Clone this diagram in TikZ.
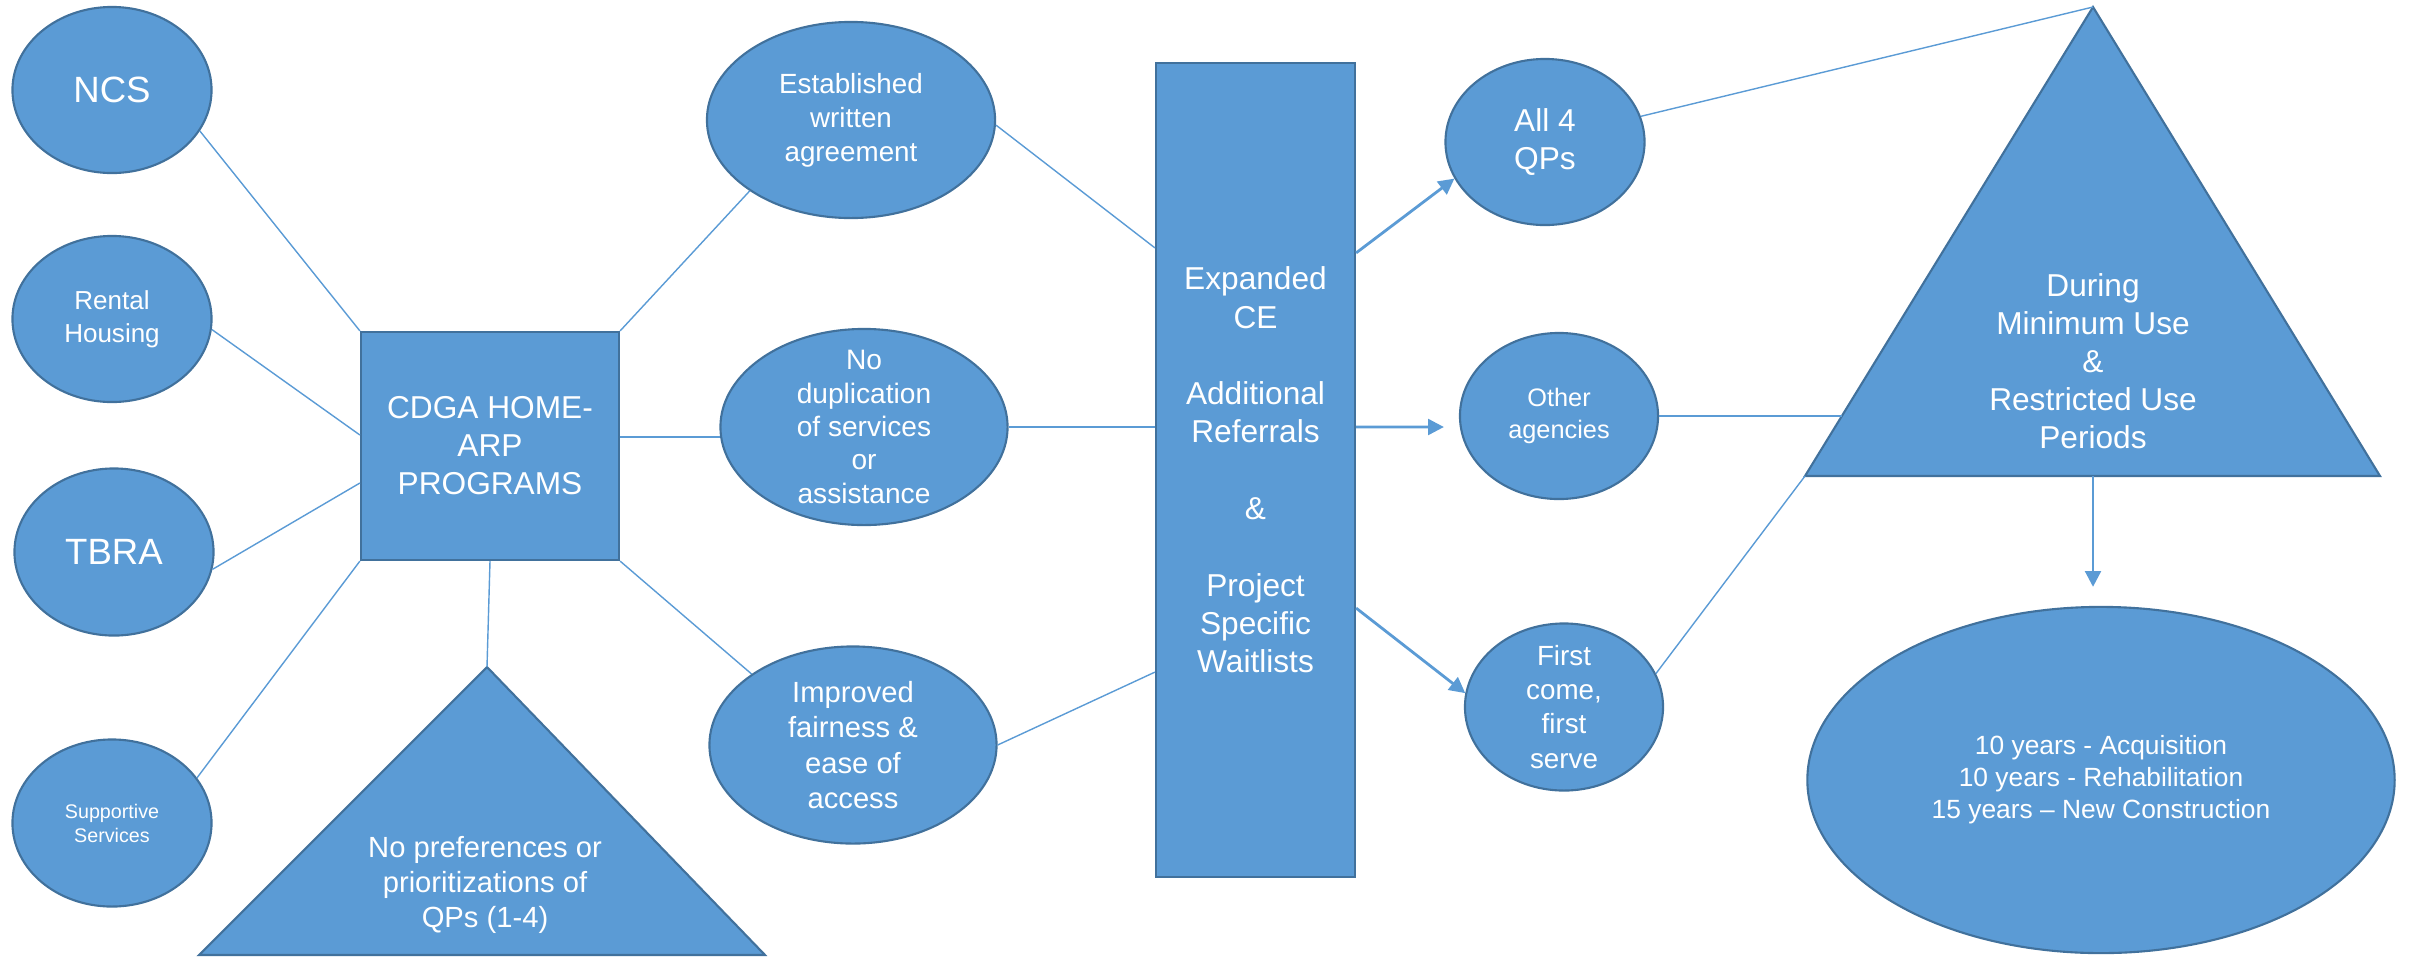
\documentclass[tikz,border=0pt]{standalone}
\usepackage{fontspec}
\setmainfont{Liberation Sans}
\usetikzlibrary{shapes.geometric,arrows.meta}
\definecolor{boxblue}{HTML}{5B9BD5}
\definecolor{edgeblue}{HTML}{41719C}
\tikzset{
  bubble/.style={ellipse,fill=boxblue,draw=edgeblue,line width=0.6pt,inner sep=0pt,text=white,align=center},
  block/.style={rectangle,fill=boxblue,draw=edgeblue,line width=0.6pt,inner sep=0pt,text=white,align=center},
  tri/.style={fill=boxblue,draw=edgeblue,line width=0.6pt,line join=miter},
  tritext/.style={inner sep=0pt,text=white,align=center},
  link/.style={draw=boxblue,line width=0.4pt},
  arr/.style={draw=boxblue,line width=0.8pt,-{Triangle[length=4.5pt,width=4.5pt]}}
}
\begin{document}
\begin{tikzpicture}[x=0.01cm,y=-0.01cm]
\useasboundingbox (0,0) rectangle (2412,957);

\node[bubble,minimum width=1.99cm,minimum height=1.66cm,font=\fontsize{10.4}{12.5}\selectfont] (ncs) at (112,90) {NCS};
\node[bubble,minimum width=1.99cm,minimum height=1.66cm,font=\fontsize{7.4}{9.5}\selectfont] (rental) at (112,319) {Rental\\Housing};
\node[bubble,minimum width=1.99cm,minimum height=1.67cm,font=\fontsize{10.4}{12.5}\selectfont] (tbra) at (114,552) {TBRA};
\node[bubble,minimum width=1.99cm,minimum height=1.67cm,font=\fontsize{5.6}{6.8}\selectfont] (supp) at (112,823) {Supportive\\Services};

\node[block,minimum width=2.58cm,minimum height=2.28cm,font=\fontsize{9}{10.8}\selectfont] (cdga) at (490,446) {CDGA HOME-\\ARP\\PROGRAMS};

\coordinate (napex) at (487,667);
\coordinate (nleft) at (199,955);
\coordinate (nright) at (765,955);
\draw[tri] (napex) -- (nright) -- (nleft) -- cycle;
\node[tritext,font=\fontsize{8.3}{10}\selectfont] (noprefs) at (485,885) {No preferences or\\prioritizations of\\QPs (1-4)};

\node[bubble,minimum width=2.88cm,minimum height=1.96cm,font=\fontsize{7.9}{9.7}\selectfont] (est) at (851,120) {Established\\written\\agreement};
\node[bubble,minimum width=2.87cm,minimum height=1.96cm,inner ysep=-4pt,font=\fontsize{8}{9.5}\selectfont] (nodup) at (864,427) {No\\duplication\\of services\\or\\assistance};
\node[bubble,minimum width=2.87cm,minimum height=1.97cm,font=\fontsize{8.3}{10}\selectfont] (impr) at (853,745) {Improved\\fairness \&\\ease of\\access};

\node[block,minimum width=1.99cm,minimum height=8.14cm,font=\fontsize{9}{10.9}\selectfont] (ce) at (1255.5,470) {Expanded\\CE\\[10.9pt]Additional\\Referrals\\[10.9pt]\&\\[10.9pt]Project\\Specific\\Waitlists};

\node[bubble,minimum width=1.99cm,minimum height=1.66cm,font=\fontsize{9}{10.8}\selectfont] (all4) at (1545,142) {All 4\\QPs};
\node[bubble,minimum width=1.98cm,minimum height=1.66cm,font=\fontsize{7.2}{9.1}\selectfont] (other) at (1559,416) {Other\\agencies};
\node[bubble,minimum width=1.98cm,minimum height=1.67cm,inner ysep=-2pt,font=\fontsize{7.9}{9.7}\selectfont] (first) at (1564,707) {First\\come,\\first\\serve};

\coordinate (dapex) at (2093,7);
\coordinate (dleft) at (1805,476);
\coordinate (dright) at (2380,476);
\coordinate (dbase) at (2093,476);
\coordinate (dside) at (1842,416);
\draw[tri] (dapex) -- (dright) -- (dleft) -- cycle;
\node[tritext,font=\fontsize{9}{10.8}\selectfont] (during) at (2093,361) {During\\Minimum Use\\\&\\Restricted Use\\Periods};

\node[bubble,minimum width=5.87cm,minimum height=3.46cm,font=\fontsize{7.5}{9.1}\selectfont] (yrs) at (2101,780) {10 years - Acquisition\\10 years - Rehabilitation\\15 years – New Construction};

\draw[link] (ncs.-25) -- (cdga.north west);
\draw[link] (rental.-6) -- ([yshift=0.11cm]cdga.west);
\draw[link] (tbra.-10) -- ([yshift=-0.37cm]cdga.west);
\draw[link] (supp.28) -- (cdga.south west);
\draw[link] (cdga.north east) -- (est.215);
\draw[link] (cdga.east |- nodup.184) -- (nodup.184);
\draw[link] (cdga.south east) -- (impr.145);
\draw[link] (cdga.south) -- (napex);

\draw[link] (est.-2) -- ([yshift=2.22cm]ce.west);
\draw[link] (nodup.east) -- (ce.west |- nodup.east);
\draw[link] (impr.east) -- ([yshift=-2.02cm]ce.west);

\draw[arr] ([yshift=2.17cm]ce.east) -- (all4.202);
\draw[arr] ([yshift=0.43cm]ce.east) -- ([xshift=-0.15cm,yshift=-0.11cm]other.west);
\draw[arr] ([yshift=-1.38cm]ce.east) -- (first.172);

\draw[link] (all4.15) -- (dapex);
\draw[link] (other.east) -- (dside);
\draw[link] (first.20) -- (dleft);
\draw[arr,shorten >=0.19cm] (dbase) -- (dbase |- yrs.north);

\end{tikzpicture}
\end{document}
